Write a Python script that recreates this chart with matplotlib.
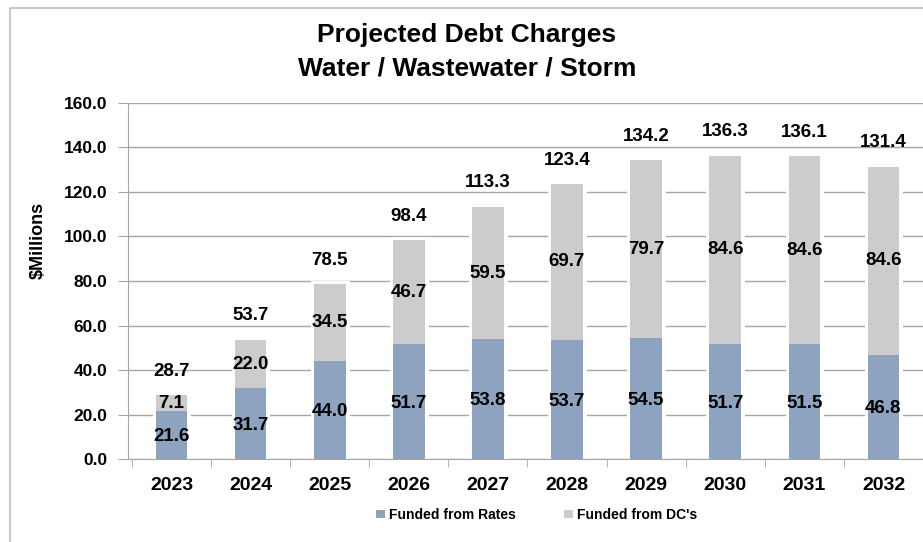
import numpy as np
import matplotlib
matplotlib.use("Agg")
import matplotlib.pyplot as plt
from matplotlib.patches import Rectangle

years = ["2023", "2024", "2025", "2026", "2027", "2028", "2029", "2030", "2031", "2032"]
rates = [21.6, 31.7, 44.0, 51.7, 53.8, 53.7, 54.5, 51.7, 51.5, 46.8]
dcs = [7.1, 22.0, 34.5, 46.7, 59.5, 69.7, 79.7, 84.6, 84.6, 84.6]
totals = [28.7, 53.7, 78.5, 98.4, 113.3, 123.4, 134.2, 136.3, 136.1, 131.4]

plt.rcParams['font.family'] = ['Liberation Sans', 'DejaVu Sans']
plt.rcParams['font.weight'] = 'bold'

blue = '#8DA3BF'
grey = '#CCCCCC'
axis_grey = '#A6A6A6'

fig = plt.figure(figsize=(9.23, 5.42), dpi=100)
ax = fig.add_axes([0.1387, 0.1531, 0.8613, 0.6569])

x = np.arange(len(years))
w = 0.4

# white halo behind bars so gridlines stop short of them
ax.bar(x, totals, width=w, color='white', edgecolor='white', linewidth=5, zorder=2)
ax.bar(x, rates, width=w, color=blue, zorder=3, label="Funded from Rates")
ax.bar(x, dcs, width=w, bottom=rates, color=grey, zorder=3, label="Funded from DC's")

for i in range(len(years)):
    ax.text(x[i], rates[i] / 2 - 0.8, f"{rates[i]:.1f}", ha='center', va='center',
            fontsize=13.5, fontweight='bold', zorder=5)
    ax.text(x[i], rates[i] + dcs[i] / 2, f"{dcs[i]:.1f}", ha='center', va='center',
            fontsize=13.5, fontweight='bold', zorder=5)
    ax.annotate(f"{totals[i]:.1f}", (x[i], totals[i]), xytext=(0, 24),
                textcoords='offset pixels', ha='center', va='center',
                fontsize=13.5, fontweight='bold', zorder=5)

ax.set_ylim(0, 160)
ax.set_xlim(-0.55, 9.5)
ax.set_yticks(np.arange(0, 161, 20))
ax.set_yticklabels([f"{v:.1f}" for v in np.arange(0, 161, 20)], fontsize=12.5, fontweight='bold')
ax.set_xticks(x)
ax.set_xticklabels(years, fontsize=14, fontweight='bold')
ax.set_xticks(np.arange(-0.5, 9.6, 1), minor=True)
ax.tick_params(axis='x', which='major', length=0, pad=13)
ax.tick_params(axis='x', which='minor', length=6, color=axis_grey, direction='out')
ax.tick_params(axis='y', length=7, color=axis_grey, direction='out', pad=8)

ax.yaxis.grid(True, color=axis_grey, linewidth=1)
ax.set_axisbelow(True)
for s in ['top', 'right']:
    ax.spines[s].set_visible(False)
ax.spines['left'].set_color(axis_grey)
ax.spines['bottom'].set_color(axis_grey)

ax.set_ylabel("$Millions", fontsize=13, fontweight='bold')
ax.yaxis.set_label_coords(-0.102, 0.615)

leg = ax.legend(loc='center', bbox_to_anchor=(0.514, -0.157), ncol=2, frameon=False,
                fontsize=10, handlelength=0.6, handleheight=0.6, handletextpad=0.3,
                columnspacing=3.5)

fig.text(0.506, 0.935, "Projected Debt Charges", ha='center', va='center',
         fontsize=19, fontweight='bold')
fig.text(0.506, 0.873, "Water / Wastewater / Storm", ha='center', va='center',
         fontsize=19, fontweight='bold')

# outer chart border
fig.patches.append(Rectangle((10 / 923, -0.1), 1.2, (542 - 8) / 542 + 0.1,
                             transform=fig.transFigure, fill=False,
                             edgecolor='#BFBFBF', linewidth=1.2))

fig.savefig("out.png", dpi=100)
